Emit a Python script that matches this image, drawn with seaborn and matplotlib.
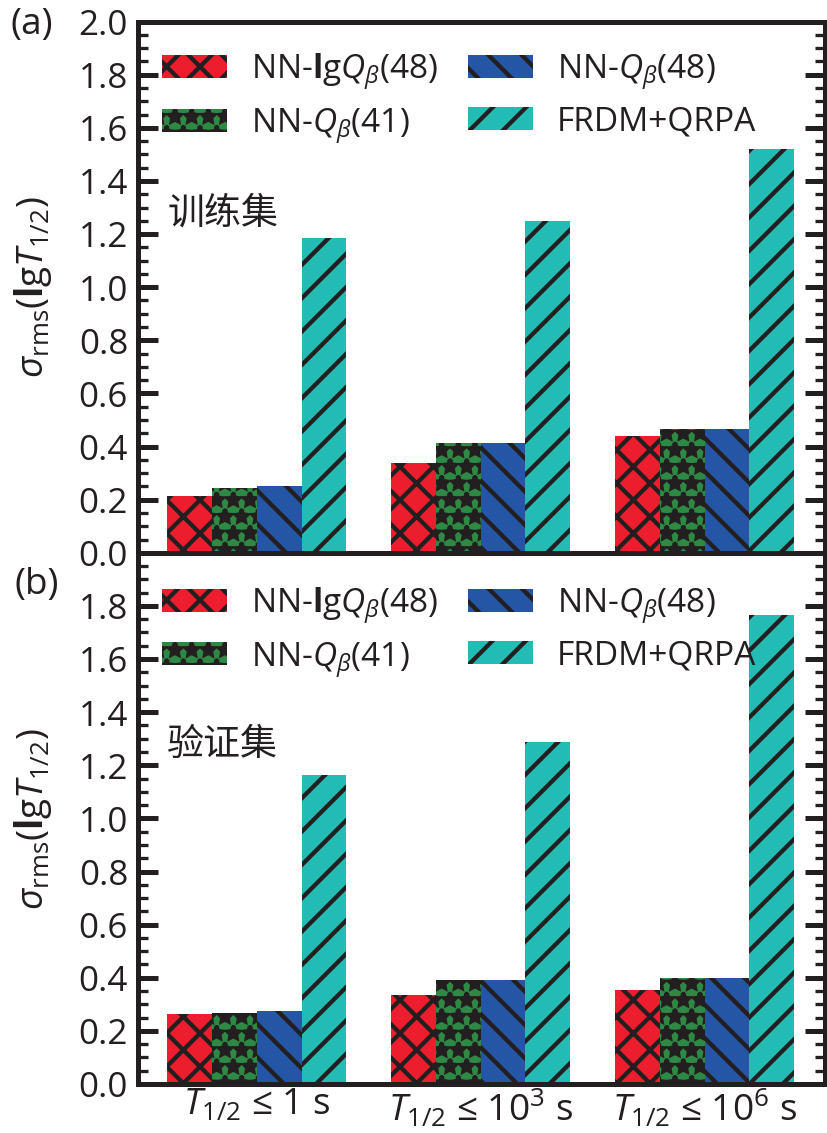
import numpy as np
import pandas as pd
import matplotlib
matplotlib.use("Agg")
import matplotlib.pyplot as plt
import matplotlib.patches as mpatches
from matplotlib.ticker import MultipleLocator, FormatStrFormatter
import seaborn as sns

# ---- data -------------------------------------------------------------
ranges = [r"$T_{1/2}$ ≤ 1 s",
          r"$T_{1/2}$ ≤ 10$^{3}$ s",
          r"$T_{1/2}$ ≤ 10$^{6}$ s"]
models = ["NN-lgQb(48)", "NN-Qb(41)", "NN-Qb(48)", "FRDM+QRPA"]
model_labels = [r"NN-$\mathbf{l}$g$Q_{\beta}$(48)",
                r"NN-$Q_{\beta}$(41)",
                r"NN-$Q_{\beta}$(48)",
                "FRDM+QRPA"]

# training set
train_lgq48 = [0.212, 0.338, 0.440]
train_q41 = [0.244, 0.413, 0.466]
train_q48 = [0.250, 0.414, 0.466]
train_frdm = [1.185, 1.250, 1.522]

# validation set
valid_lgq48 = [0.264, 0.334, 0.355]
valid_q41 = [0.269, 0.393, 0.398]
valid_q48 = [0.274, 0.393, 0.398]
valid_frdm = [1.164, 1.288, 1.766]

panels = [("(a)", "训练集", [train_lgq48, train_q41, train_q48, train_frdm]),
          ("(b)", "验证集", [valid_lgq48, valid_q41, valid_q48, valid_frdm])]

# ---- style ------------------------------------------------------------
colors = ["#EC1E2D", "#2E8944", "#2456A5", "#23BCB4"]
hatches = ["xxx", "***", "\\\\\\", "///"]
ink = "#231F20"

DPI = 300


def px(v):
    """Convert a length in output pixels to points."""
    return v * 72.0 / DPI


sns.set_style("white")
plt.rcParams["font.family"] = ["Open Sans", "DejaVu Sans"]
plt.rcParams["mathtext.fontset"] = "custom"
plt.rcParams["mathtext.rm"] = "Open Sans"
plt.rcParams["mathtext.it"] = "Open Sans:italic"
plt.rcParams["mathtext.bf"] = "Open Sans:bold"
plt.rcParams["hatch.linewidth"] = px(4.3)
plt.rcParams["hatch.color"] = ink
plt.rcParams["text.color"] = ink
plt.rcParams["axes.labelcolor"] = ink
plt.rcParams["xtick.color"] = ink
plt.rcParams["ytick.color"] = ink

fig = plt.figure(figsize=(827.4 / DPI, 1133.4 / DPI), dpi=DPI)
left, width = 138 / 827, 687 / 827
h = 531 / 1133
ax_top = fig.add_axes([left, 1 - 553 / 1133, width, h])
ax_bot = fig.add_axes([left, 1 - 1084 / 1133, width, h])

legend_y = {"(a)": 0.958, "(b)": 0.953}

for ax, (tag, setname, series) in zip([ax_top, ax_bot], panels):
    df = pd.DataFrame({
        "range": np.repeat([ranges], len(models), axis=0).ravel(),
        "model": np.repeat(models, len(ranges)),
        "rms": np.concatenate(series),
    })
    sns.barplot(data=df, x="range", y="rms", hue="model",
                order=ranges, hue_order=models, palette=colors,
                saturation=1, width=0.8, errorbar=None, legend=False,
                linewidth=0, edgecolor=ink, ax=ax)
    for cont, hp in zip(ax.containers, hatches):
        for bar in cont:
            bar.set_hatch(hp)
            bar.set_edgecolor(ink)
            bar.set_linewidth(0)

    ax.set_xlim(-0.53, 2.54)
    ax.set_ylim(0, 2.0)
    ax.yaxis.set_major_locator(MultipleLocator(0.2))
    ax.yaxis.set_minor_locator(MultipleLocator(0.05))
    ax.yaxis.set_major_formatter(FormatStrFormatter("%.1f"))
    ax.tick_params(axis="y", which="major", direction="in", length=px(20),
                   width=px(5), left=True, right=True, labelsize=px(35),
                   pad=px(10))
    ax.tick_params(axis="y", which="minor", direction="in", length=px(10),
                   width=px(3.3), left=True, right=True)
    ax.tick_params(axis="x", length=0, labelsize=px(37), pad=px(3))
    for sp in ax.spines.values():
        sp.set_linewidth(px(5))
        sp.set_color(ink)
    ax.set_xlabel("")
    ax.set_ylabel(r"$\sigma_{\mathrm{rms}}$($\mathbf{l}$g$T_{1/2}$)",
                  fontsize=px(37))
    ax.yaxis.set_label_coords(-0.122, 0.5)

    ax.text(-0.40, 1.28, setname, fontsize=px(37), va="center", ha="left",
            family=["Noto Sans CJK SC", "DejaVu Sans"])

    handles = [mpatches.Patch(facecolor=c, hatch=hp, edgecolor=ink,
                              linewidth=0, label=lab)
               for c, hp, lab in zip(colors, hatches, model_labels)]
    ax.legend(handles=handles, ncol=2, frameon=False, loc="upper left",
              bbox_to_anchor=(0.025, legend_y[tag]), fontsize=px(33.5),
              handlelength=1.95, handleheight=0.68, handletextpad=0.7,
              columnspacing=0.9, labelspacing=0.42, borderaxespad=0,
              borderpad=0.2)

ax_top.tick_params(axis="x", labelbottom=False)
ax_bot.set_yticks(np.arange(0, 1.81, 0.2))
ax_bot.yaxis.set_minor_locator(MultipleLocator(0.05))

fig.text(10 / 827, 1 - 25 / 1133, "(a)", fontsize=px(37), va="center", ha="left")
fig.text(14 / 827, 1 - 585 / 1133, "(b)", fontsize=px(37), va="center", ha="left")

fig.savefig("out.png", dpi=DPI, facecolor="white")
